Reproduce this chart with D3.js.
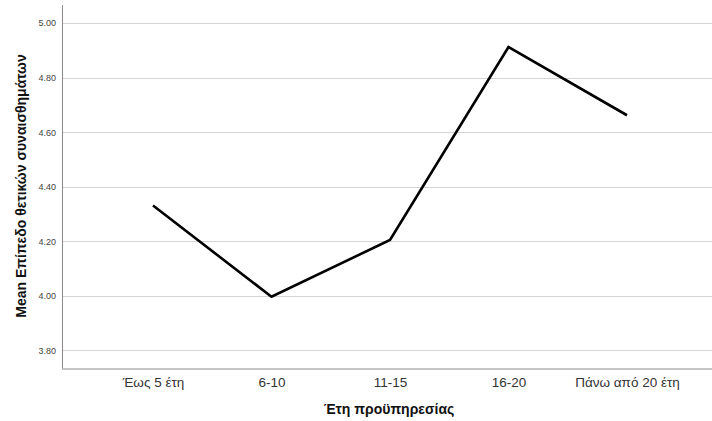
<!DOCTYPE html>
<html><head><meta charset="utf-8">
<script src="https://cdn.jsdelivr.net/npm/d3@7"></script>
<style>body{margin:0;background:#fff;}svg{display:block;font-family:"Liberation Sans",Arial,sans-serif;}</style>
</head><body><svg id="c" width="712" height="421"></svg>
<script>
const categories = ["Έως 5 έτη", "6-10", "11-15", "16-20", "Πάνω από 20 έτη"];
const meanValues = [4.331, 3.997, 4.205, 4.912, 4.662];
const yTicks = [3.8, 4.0, 4.2, 4.4, 4.6, 4.8, 5.0];
const xTitle = "Έτη προϋπηρεσίας";
const yTitle = "Mean Επίπεδο θετικών συναισθημάτων";

(function () {
const svg = d3.select("#c");
const mLeft = 62, mTop = 5, mBottom = 368.5, mRight = 718;
const x = d3.scalePoint().domain(categories).range([mLeft, mRight]).padding(0.768);
const y = d3.scaleLinear().domain([3.734, 5.066]).range([mBottom, mTop]);

// gridlines
svg.append("g").selectAll("line").data(yTicks).join("line")
  .attr("x1", mLeft).attr("x2", 712)
  .attr("y1", d => Math.round(y(d)) + 0.5).attr("y2", d => Math.round(y(d)) + 0.5)
  .attr("stroke", "#d4d4d4").attr("stroke-width", 1.2);

// y axis
const ya = svg.append("g").attr("transform", `translate(${mLeft},0)`)
  .call(d3.axisLeft(y).tickValues(yTicks).tickFormat(d3.format(".2f")).tickSize(0).tickPadding(6));
ya.select(".domain").remove();
ya.selectAll("text").attr("font-size", 9).attr("fill", "#444").attr("font-family", "Liberation Sans, Arial, sans-serif");

// x axis
const xa = svg.append("g").attr("transform", `translate(0,${mBottom})`)
  .call(d3.axisBottom(x).tickSize(0).tickPadding(9));
xa.select(".domain").remove();
xa.selectAll("text").attr("font-size", 13.5).attr("fill", "#333").attr("font-family", "Liberation Sans, Arial, sans-serif");

// frame lines
svg.append("line").attr("x1", mLeft + 0.5).attr("x2", mLeft + 0.5).attr("y1", mTop).attr("y2", mBottom)
  .attr("stroke", "#8a8a8a").attr("stroke-width", 1);
svg.append("line").attr("x1", mLeft).attr("x2", 712).attr("y1", mBottom + 0.5).attr("y2", mBottom + 0.5)
  .attr("stroke", "#8a8a8a").attr("stroke-width", 1);

// line
svg.append("path").datum(meanValues.map((v, i) => [categories[i], v]))
  .attr("fill", "none").attr("stroke", "#000").attr("stroke-width", 2.6)
  .attr("d", d3.line().x(d => x(d[0])).y(d => y(d[1])));

// titles
svg.append("text").attr("x", 389).attr("y", 414).attr("text-anchor", "middle")
  .attr("font-size", 14).attr("font-weight", "bold").attr("fill", "#111").text(xTitle);
svg.append("text").attr("transform", "translate(26,186) rotate(-90)").attr("text-anchor", "middle")
  .attr("font-size", 14).attr("font-weight", "bold").attr("fill", "#111").text(yTitle);
})();
</script></body></html>
